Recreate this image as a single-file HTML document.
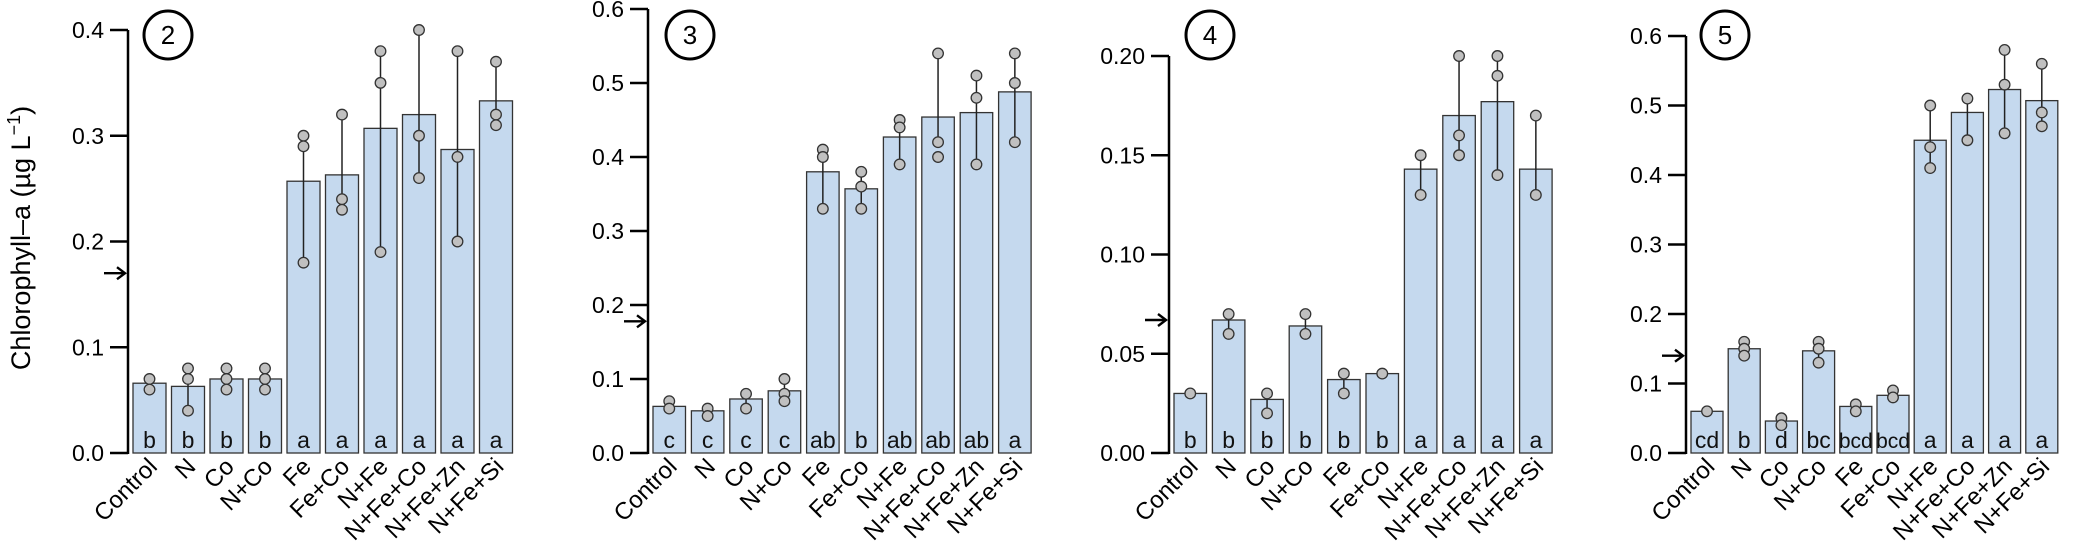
<!DOCTYPE html>
<html><head><meta charset="utf-8"><style>
html,body{margin:0;padding:0;background:#fff;}
svg{display:block;}
text{font-family:"Liberation Sans",Arial,sans-serif;}
</style></head><body>
<svg id="s" width="2078" height="554" viewBox="0 0 2078 554" xmlns="http://www.w3.org/2000/svg">
<text x="0" y="0" font-size="27" text-anchor="middle" transform="translate(30,238) rotate(-90)">Chlorophyll–a (µg L<tspan dy="-10" font-size="18">−1</tspan><tspan dy="10">)</tspan></text>
</svg>
<script>
const NS="http://www.w3.org/2000/svg";
const s=document.getElementById('s');
function el(t,a,txt){const e=document.createElementNS(NS,t);for(const k in a)e.setAttribute(k,a[k]);if(txt!==undefined)e.textContent=txt;s.appendChild(e);return e;}
const names=["Control","N","Co","N+Co","Fe","Fe+Co","N+Fe","N+Fe+Co","N+Fe+Zn","N+Fe+Si"];
const panels=[
{ax:128,sc:1057.5,ticks:[0,0.1,0.2,0.3,0.4],dec:1,bx:133,pitch:38.5,w:33,num:"2",cx:168,arrow:0.17,
 m:[0.066,0.063,0.07,0.07,0.257,0.263,0.307,0.32,0.287,0.333],
 p:[[.07,.06],[.08,.07,.04],[.08,.07,.06],[.08,.07,.06],[.30,.29,.18],[.32,.24,.23],[.38,.35,.19],[.40,.30,.26],[.38,.28,.20],[.37,.32,.31]],
 e:[null,[.07,.04],null,null,[.29,.18],[.32,.23],[.38,.19],[.40,.26],[.38,.20],[.37,.31]],
 l:["b","b","b","b","a","a","a","a","a","a"]},
{ax:648,sc:740,ticks:[0,0.1,0.2,0.3,0.4,0.5,0.6],dec:1,bx:653,pitch:38.4,w:32.5,num:"3",cx:690,arrow:0.178,
 m:[0.063,0.057,0.073,0.084,0.38,0.357,0.427,0.454,0.46,0.488],
 p:[[.07,.06],[.06,.05],[.08,.06],[.10,.08,.07],[.41,.40,.33],[.38,.36,.33],[.45,.44,.39],[.54,.42,.40],[.51,.48,.39],[.54,.50,.42]],
 e:[null,null,[.08,.06],[.10,.07],[.40,.33],[.38,.33],[.44,.39],[.54,.42],[.51,.39],[.54,.42]],
 l:["c","c","c","c","ab","b","ab","ab","ab","a"]},
{ax:1169,sc:1985,ticks:[0,0.05,0.1,0.15,0.2],dec:2,bx:1174,pitch:38.4,w:32.5,num:"4",cx:1210,arrow:0.067,
 m:[0.030,0.067,0.027,0.064,0.037,0.040,0.143,0.170,0.177,0.143],
 p:[[.03],[.07,.06],[.03,.02],[.07,.06],[.04,.03],[.04],[.15,.13],[.20,.16,.15],[.20,.19,.14],[.17,.13]],
 e:[null,[.07,.06],[.03,.02],[.07,.06],[.04,.03],null,[.15,.13],[.20,.15],[.20,.14],[.17,.13]],
 l:["b","b","b","b","b","b","a","a","a","a"]},
{ax:1686,sc:695,ticks:[0,0.1,0.2,0.3,0.4,0.5,0.6],dec:1,bx:1691,pitch:37.2,w:32,num:"5",cx:1725,arrow:0.14,
 m:[0.06,0.15,0.046,0.147,0.067,0.083,0.45,0.49,0.523,0.507],
 p:[[.06],[.16,.15,.14],[.05,.04],[.16,.15,.13],[.07,.06],[.09,.08],[.50,.44,.41],[.51,.45],[.58,.53,.46],[.56,.49,.47]],
 e:[null,null,null,[.16,.13],null,null,[.50,.41],[.51,.45],[.58,.46],[.56,.47]],
 l:["cd","b","d","bc","bcd","bcd","a","a","a","a"]}
];
const Y0=453;
panels.forEach(P=>{
 const y=v=>Y0-v*P.sc;
 const top=y(P.ticks[P.ticks.length-1]);
 el('line',{x1:P.ax,y1:Y0+1,x2:P.ax,y2:top,stroke:'#000','stroke-width':2.5});
 P.ticks.forEach(t=>{
  el('line',{x1:P.ax-18,y1:y(t),x2:P.ax,y2:y(t),stroke:'#000','stroke-width':2.5});
  el('text',{x:P.ax-24,y:y(t)+8,'font-size':23,'text-anchor':'end'},t.toFixed(P.dec));
 });
 const ay=y(P.arrow);
 el('line',{x1:P.ax-24,y1:ay,x2:P.ax-3,y2:ay,stroke:'#000','stroke-width':2.4});
 el('polyline',{points:`${P.ax-11},${ay-6} ${P.ax-3},${ay} ${P.ax-11},${ay+6}`,fill:'none',stroke:'#000','stroke-width':2.4});
 el('circle',{cx:P.cx,cy:35,r:24,fill:'none',stroke:'#000','stroke-width':3});
 el('text',{x:P.cx,y:44,'font-size':26,'text-anchor':'middle'},P.num);
 for(let i=0;i<10;i++){
  const x=P.bx+i*P.pitch, c=x+P.w/2;
  el('rect',{x:x,y:y(P.m[i]),width:P.w,height:P.m[i]*P.sc,fill:'#c5d9ee',stroke:'#333','stroke-width':1.3});
  if(P.e[i]) el('line',{x1:c,y1:y(P.e[i][0]),x2:c,y2:y(P.e[i][1]),stroke:'#222','stroke-width':1.5});
  P.p[i].forEach(v=>el('circle',{cx:c,cy:y(v),r:5.3,fill:'#c0c0c0',stroke:'#333','stroke-width':1.3}));
  el('text',{x:c,y:448,'font-size':P.l[i].length>2?21:23,'text-anchor':'middle',fill:'#111'},P.l[i]);
  el('text',{x:0,y:0,'font-size':24,'text-anchor':'end',transform:`translate(${c+9},${468}) rotate(-45)`},names[i]);
 }
});
</script>
</body></html>
